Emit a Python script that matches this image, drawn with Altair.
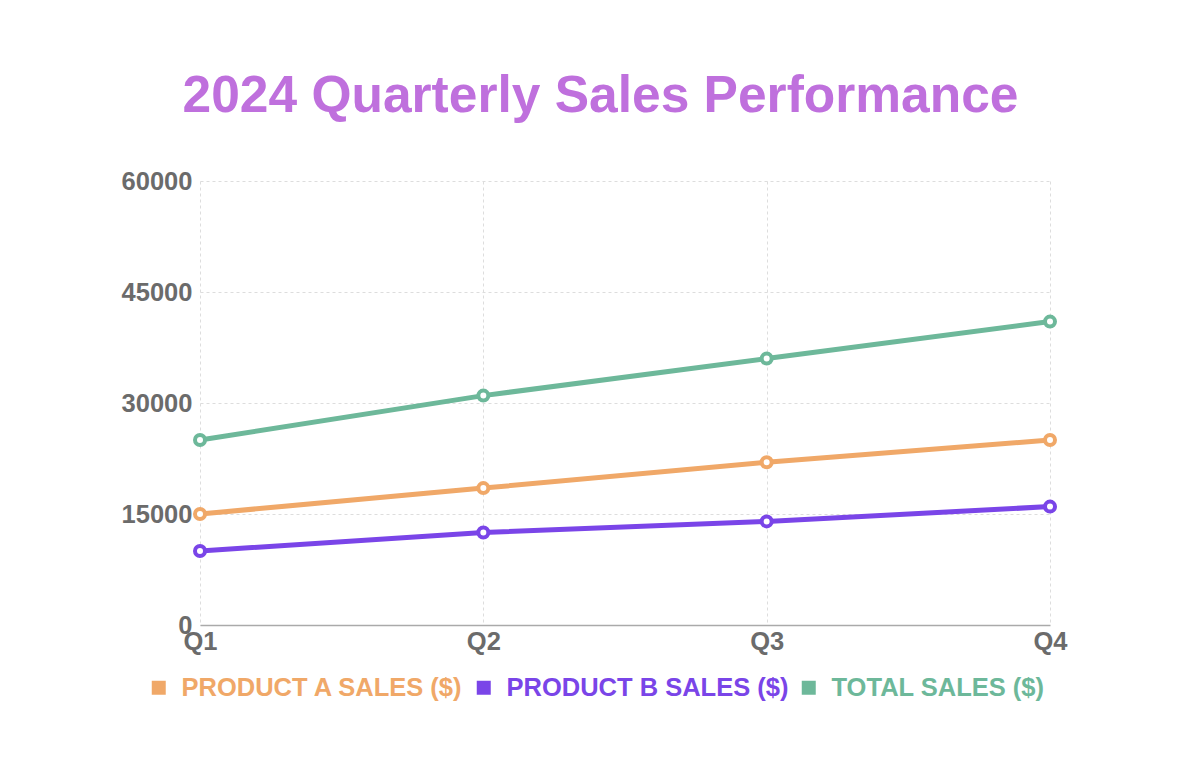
import altair as alt
import pandas as pd

quarters = ["Q1", "Q2", "Q3", "Q4"]
product_a = [15000, 18500, 22000, 25000]
product_b = [10000, 12500, 14000, 16000]
total = [25000, 31000, 36000, 41000]

series_names = ["PRODUCT A SALES ($)", "PRODUCT B SALES ($)", "TOTAL SALES ($)"]
series_colors = ["#f0a868", "#7a45e8", "#6db89a"]

rows = []
for name, vals in zip(series_names, [product_a, product_b, total]):
    for q, v in zip(quarters, vals):
        rows.append({"Quarter": q, "Sales": v, "Series": name})
df = pd.DataFrame(rows)

FONT = "Liberation Sans"

color_expr = (
    f"datum.label == '{series_names[0]}' ? '{series_colors[0]}' : "
    f"datum.label == '{series_names[1]}' ? '{series_colors[1]}' : '{series_colors[2]}'"
)

chart = alt.Chart(df).mark_line(
    strokeWidth=5,
    point=alt.OverlayMarkDef(filled=False, fill="white", size=100, strokeWidth=4),
).encode(
    x=alt.X("Quarter:N", sort=quarters, title=None,
            scale=alt.Scale(type="point", padding=0),
            axis=alt.Axis(labelAngle=0, labelFontSize=25.5, labelFont=FONT, labelFontWeight="bold",
                          labelColor="#6b6b6b", labelPadding=4, ticks=False,
                          domain=True, domainColor="#aaaaaa", domainWidth=1.5,
                          grid=True, gridColor="#dddddd", gridDash=[3, 3], gridWidth=1)),
    y=alt.Y("Sales:Q", title=None,
            scale=alt.Scale(domain=[0, 60000], nice=False),
            axis=alt.Axis(values=[0, 15000, 30000, 45000, 60000], labelFontSize=25.5, labelFont=FONT,
                          labelFontWeight="bold", labelColor="#6b6b6b", labelPadding=8, ticks=False,
                          domain=False, grid=True, gridColor="#dddddd", gridDash=[3, 3], gridWidth=1,
                          format="d")),
    color=alt.Color("Series:N", sort=series_names,
                    scale=alt.Scale(domain=series_names, range=series_colors),
                    legend=alt.Legend(title=None, orient="none", direction="horizontal",
                                      legendX=-54, legendY=494, symbolType="square", symbolSize=49,
                                      symbolStrokeWidth=7,
                                      symbolStrokeColor=alt.ExprRef(color_expr),
                                      symbolFillColor=alt.ExprRef(color_expr),
                                      symbolOpacity=1,
                                      labelColor=alt.ExprRef(color_expr),
                                      labelFontSize=25.5, labelFont=FONT, labelFontWeight="bold",
                                      labelLimit=0, labelOffset=10, columnPadding=2, padding=0,
                                      gridAlign="none")),
).properties(
    width=850,
    height=444,
    title=alt.TitleParams("2024 Quarterly Sales Performance", font=FONT, fontSize=51.5,
                          fontWeight="bold", color="#bf70dd", anchor="middle", dx=-24.5, offset=47),
    autosize=alt.AutoSizeParams(type="none"),
    padding={"left": 192, "top": 173, "right": 130, "bottom": 90},
).configure_view(stroke=None)

chart.save("out.html", embed_options={"renderer": "svg", "actions": False})
